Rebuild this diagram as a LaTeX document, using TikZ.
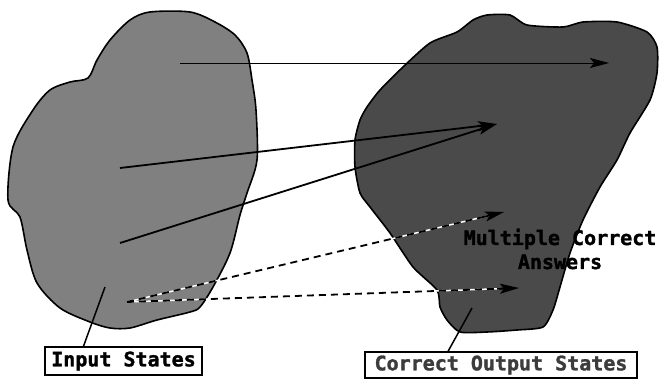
\documentclass[tikz,border=0pt]{standalone}
\usepackage{fontspec}
\newfontfamily\pixfont{DejaVu Sans Mono Bold}[FakeBold=1.5]
\usetikzlibrary{arrows.meta, calc}
\definecolor{inputgray}{RGB}{128,128,128}
\definecolor{outputgray}{RGB}{74,74,74}
\definecolor{labelgray}{RGB}{60,60,60}
\begin{document}
\begin{tikzpicture}[x=1pt, y=-1pt,
    blob/.style      = {draw=black, line width=1.6pt, line join=round},
    arrow/.style     = {-{Stealth[length=19pt, width=10pt, inset=4pt]}},
    dashline/.style  = {line width=1.8pt, dash pattern=on 7pt off 5pt, shorten >=12pt},
    lbl/.style       = {draw, line width=1.5pt, fill=white, inner xsep=5pt,
                        font=\pixfont\fontsize{20}{24}\selectfont},
    gap/.style       = {white, line width=1.5pt, shorten >=12pt}
]
\useasboundingbox (0,0) rectangle (659,388);
% input states
\draw[blob, fill=inputgray] plot[smooth cycle, tension=0.5] coordinates {
    (150,12) (190,12) (215,22) (235,35) (247,53) (252,80) (256,110) (257,160)
    (247,193) (240,215) (230,253) (213,287) (200,307) (190,312) (157,320)
    (130,328) (110,328) (90,322) (60,308) (37,283) (27,250) (20,217) (8,200)
    (13,147) (33,110) (50,90) (70,82) (88,78) (97,60) (110,40) (130,20)};
% correct output states
\draw[blob, fill=outputgray] plot[smooth cycle, tension=0.4] coordinates {
    (473,20) (487,15) (510,15) (527,25) (563,27) (583,22) (617,22) (647,32)
    (657,47) (657,73) (650,100) (630,133) (617,160) (600,187) (583,220)
    (570,253) (560,287) (553,310) (543,327) (517,330) (487,332) (460,332)
    (447,320) (440,307) (437,290) (413,267) (390,233) (370,207) (360,193)
    (355,167) (355,140) (360,120) (367,107) (380,90) (403,67) (430,43) (457,32)};
% arrow ends
\coordinate (in1) at (180,63);
\coordinate (in2) at (120,168);
\coordinate (in3) at (120,243);
\coordinate (in4) at (127,302);
\coordinate (out1) at (609,63);
\coordinate (out2) at (497,124);
\coordinate (out3) at (504,212);
\coordinate (out4) at (519,288);
\draw[arrow, line width=1pt] (in1) -- (out1);
\draw[arrow, line width=1.8pt] (in2) -- (out2);
\draw[arrow, line width=1.8pt] (in3) -- (out2);
\draw[gap] (in4) -- (out3);
\draw[gap] (in4) -- (out4);
\draw[dashline] (in4) -- (out3);
\draw[dashline] (in4) -- (out4);
\draw[arrow, line width=1.8pt] ($(out3)!22pt!(in4)$) -- (out3);
\draw[arrow, line width=1.8pt] ($(out4)!22pt!(in4)$) -- (out4);
\node[font=\pixfont\fontsize{20}{24}\selectfont, align=center, inner sep=0pt]
    (multi) at (560,249) {Multiple Correct\\Answers};
% labels
\node[lbl, minimum width=157pt, minimum height=28pt] (inlbl) at (123.5,361) {Input States};
\node[lbl, text=labelgray, minimum width=272pt, minimum height=24pt] (outlbl) at (501,365) {Correct Output States};
\coordinate (inpt) at (105,287);
\coordinate (outpt) at (472,308);
\draw[line width=1.5pt] ([xshift=-40pt]inlbl.north) -- (inpt);
\draw[line width=1.5pt] ([xshift=-53pt]outlbl.north) -- (outpt);
\end{tikzpicture}
\end{document}
